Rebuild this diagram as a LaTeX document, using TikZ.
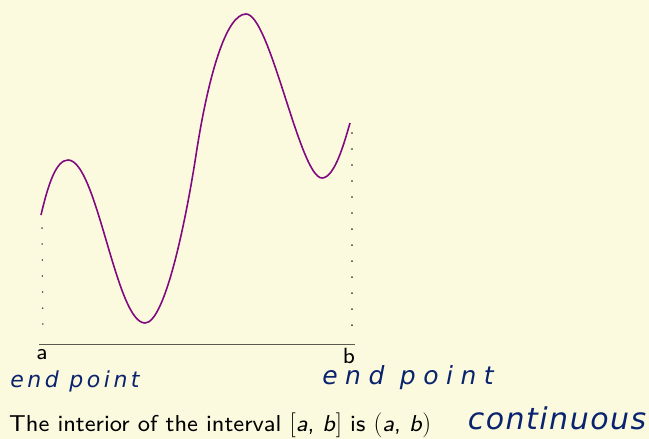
\documentclass[tikz,border=0pt]{standalone}
\usepackage{fontspec}
\newfontfamily\handfont{DejaVu Sans}
\newfontfamily\labfont{lmsans8-regular.otf}[ItalicFont=lmsans8-oblique.otf]
\definecolor{bg}{RGB}{252,250,222}
\definecolor{curvecol}{RGB}{128,10,128}
\definecolor{ink}{RGB}{10,35,110}
\definecolor{axiscol}{RGB}{90,90,80}
\tikzset{
  graph/.style={curvecol, line width=1.6pt},
  dotline/.style={black, line width=1.5pt, line cap=round, dash pattern=on 0.01pt off 16pt},
  axis/.style={axiscol, line width=0.9pt},
  ptlabel/.style={font=\labfont\fontsize{22}{22}\selectfont, inner sep=0pt},
  hand/.style={ink, inner sep=0pt},
  caption/.style={font=\labfont\fontsize{23}{24}\selectfont, inner sep=0pt, anchor=base west}
}
\begin{document}
\begin{tikzpicture}[x=1pt,y=-1pt]
\fill[bg] (0,0) rectangle (649,439);
\useasboundingbox (0,0) rectangle (649,439);
% axis
\coordinate (A) at (39,344);
\coordinate (B) at (355,344);
\draw[axis] (A) -- (B);
% curve
\draw[graph] (41,215) .. controls (48,185) and (56,160) .. (68,160)
  .. controls (97,160) and (116,323) .. (145,323)
  .. controls (165,323) and (186,220) .. (196,155)
  .. controls (208,77) and (226,14) .. (246,14)
  .. controls (270,14) and (300,178) .. (322,178)
  .. controls (335,178) and (345,140) .. (350,123);
% dotted verticals
\coordinate (L1) at (42,228);
\coordinate (L2) at (43,336);
\draw[dotline] (L1) -- (L2);
\coordinate (R1) at (352,133);
\coordinate (R2) at (352,340);
\draw[dotline] (R1) -- (R2);
% labels
\node[ptlabel] (la) at (42,355) {a};
\node[ptlabel] (lb) at (349,356) {b};
\node[hand, font=\handfont\itshape\fontsize{22}{22}\selectfont\addfontfeature{LetterSpace=16}] (ep1) at (75,381) {end point};
\node[hand, font=\handfont\itshape\fontsize{25}{25}\selectfont\addfontfeature{LetterSpace=30}] (ep2) at (408,378) {end point};
\node[caption] (cap) at (9,431) {The interior of the interval $[$\textit{a}, \textit{b}$]$ is $($\textit{a}, \textit{b}$)$};
\node[hand, font=\handfont\itshape\fontsize{30}{30}\selectfont\addfontfeature{LetterSpace=5}] (cont) at (557,418) {continuous};
\end{tikzpicture}
\end{document}
